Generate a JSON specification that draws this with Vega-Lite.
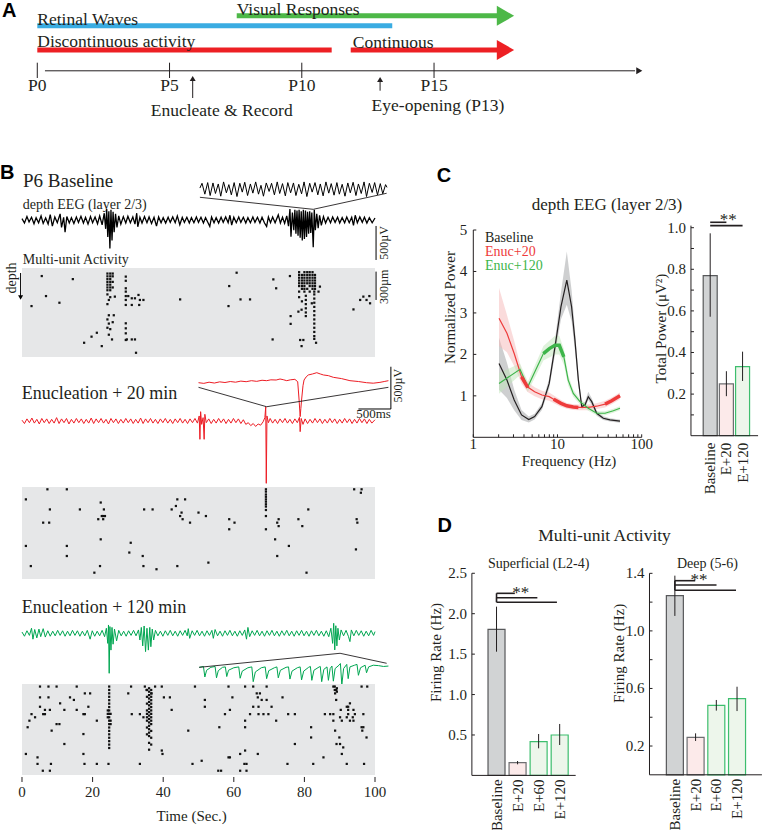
{
"$schema": "https://vega.github.io/schema/vega-lite/v6.json",
"width": 768, "height": 830,
"padding": 0,
"autosize": "none",
"background": "white",
"config": {
 "view": {"stroke": null},
 "text": {"font": "Liberation Serif", "color": "#231F20"}
},
"resolve": {"scale": {"x": "independent", "y": "independent", "color": "independent", "fill": "independent", "stroke": "independent"}},
"datasets": {
 "one": [{}],
 "aBars": [{"phase":"Retinal Waves","s":0,"e":13.42,"r":2.57},{"phase":"Visual Responses","s":7.54,"e":17.45,"r":1.58},{"phase":"Discontinuous activity","s":0,"e":11.13,"r":5.0},{"phase":"Continuous","s":11.85,"e":17.45,"r":5.0}],
 "aHeads": [{"phase":"Visual Responses","d":17.7,"r":1.58},{"phase":"Continuous","d":17.7,"r":5.0}],
 "aTicks": [{"d":0,"lab":"P0"},{"d":5,"lab":"P5"},{"d":10,"lab":"P10"},{"d":15,"lab":"P15"}],
 "aArrows": [{"d":5.875,"tip":7.85,"a":7.95,"b":9.8},{"d":12.96,"tip":7.95,"a":8.05,"b":9.07}],
 "aText": [{"d":0,"r":1.97,"lab":"Retinal Waves"},{"d":7.54,"r":1.0,"lab":"Visual Responses"},{"d":0,"r":4.2,"lab":"Discontinuous activity"},{"d":11.93,"r":4.25,"lab":"Continuous"},{"d":4.29,"r":11.07,"lab":"Enucleate & Record"},{"d":12.64,"r":10.6,"lab":"Eye-opening (P13)"}],
 "tx": [{"t":0},{"t":20},{"t":40},{"t":60},{"t":80},{"t":100}],
 "cyt": [{"v":1},{"v":2},{"v":3},{"v":4},{"v":5}],
 "cxt": [{"f":1},{"f":2},{"f":3},{"f":4},{"f":5},{"f":6},{"f":7},{"f":8},{"f":9},{"f":10},{"f":20},{"f":30},{"f":40},{"f":50},{"f":60},{"f":70},{"f":80},{"f":90},{"f":100}],
 "cxl": [{"f":1,"lab":"1"},{"f":10,"lab":"10"},{"f":100,"lab":"100"}],
 "cbt": [{"v":0.1},{"v":0.2},{"v":0.3},{"v":0.4},{"v":0.5},{"v":0.6},{"v":0.7},{"v":0.8},{"v":0.9},{"v":1.0}],
 "cbl": [{"v":0.2},{"v":0.4},{"v":0.6},{"v":0.8},{"v":1.0}],
 "dly": [{"v":0.5},{"v":1.0},{"v":1.5},{"v":2.0},{"v":2.5}],
 "dry": [{"v":0.2},{"v":0.4},{"v":0.6},{"v":0.8},{"v":1.0},{"v":1.2},{"v":1.4}],
 "dryl": [{"v":0.2},{"v":0.6},{"v":1.0},{"v":1.4}],
 "tr1": [{"t":0,"v":20},{"t":0.7,"v":-45},{"t":1.4,"v":50},{"t":2,"v":-30},{"t":2.7,"v":40},{"t":3.4,"v":-55},{"t":4,"v":35},{"t":4.7,"v":-40},{"t":5.4,"v":60},{"t":6,"v":-50},{"t":6.7,"v":30},{"t":7.4,"v":-60},{"t":8,"v":80},{"t":8.6,"v":-90},{"t":9.3,"v":45},{"t":10,"v":-40},{"t":10.8,"v":90},{"t":11.2,"v":-110},{"t":11.8,"v":40},{"t":12.2,"v":-180},{"t":12.7,"v":50},{"t":13.4,"v":-45},{"t":14,"v":35},{"t":14.7,"v":-50},{"t":15.4,"v":45},{"t":16,"v":-35},{"t":16.7,"v":55},{"t":17.4,"v":-45},{"t":18,"v":40},{"t":18.7,"v":-60},{"t":19.4,"v":50},{"t":20,"v":-40},{"t":20.7,"v":45},{"t":21.4,"v":-55},{"t":22,"v":60},{"t":22.7,"v":-70},{"t":23.3,"v":100},{"t":23.7,"v":-130},{"t":24,"v":160},{"t":24.3,"v":-250},{"t":24.6,"v":130},{"t":24.9,"v":-420},{"t":25.2,"v":150},{"t":25.5,"v":-300},{"t":25.8,"v":120},{"t":26.1,"v":-180},{"t":26.5,"v":90},{"t":26.9,"v":-110},{"t":27.4,"v":60},{"t":28,"v":-60},{"t":28.7,"v":50},{"t":29.4,"v":-45},{"t":30,"v":55},{"t":30.7,"v":-40},{"t":31.4,"v":45},{"t":32,"v":-60},{"t":32.5,"v":100},{"t":32.8,"v":-100},{"t":33.4,"v":40},{"t":34,"v":-45},{"t":34.7,"v":50},{"t":35.4,"v":-40},{"t":36,"v":45},{"t":36.7,"v":-50},{"t":37.4,"v":40},{"t":38.1,"v":-90},{"t":38.7,"v":45},{"t":39.4,"v":-40},{"t":40,"v":35},{"t":40.7,"v":-45},{"t":41.4,"v":40},{"t":42,"v":-35},{"t":42.7,"v":45},{"t":43.4,"v":-40},{"t":44,"v":60},{"t":44.7,"v":-70},{"t":45.4,"v":40},{"t":46,"v":-35},{"t":46.7,"v":40},{"t":47.4,"v":-45},{"t":48,"v":35},{"t":48.7,"v":-40},{"t":49.4,"v":45},{"t":50,"v":-35},{"t":50.7,"v":40},{"t":51.4,"v":-45},{"t":52,"v":35},{"t":52.7,"v":-40},{"t":53.2,"v":-95},{"t":53.7,"v":45},{"t":54.4,"v":-40},{"t":55,"v":35},{"t":55.7,"v":-45},{"t":56.4,"v":40},{"t":57,"v":-35},{"t":57.7,"v":45},{"t":58.4,"v":-40},{"t":58.9,"v":70},{"t":59.4,"v":-75},{"t":60,"v":40},{"t":60.7,"v":-40},{"t":61.4,"v":45},{"t":62,"v":-35},{"t":62.7,"v":40},{"t":63.4,"v":-45},{"t":64,"v":35},{"t":64.7,"v":-40},{"t":65.4,"v":45},{"t":66,"v":-35},{"t":66.7,"v":40},{"t":67.4,"v":-45},{"t":68,"v":40},{"t":68.7,"v":-45},{"t":69.3,"v":-95},{"t":69.8,"v":45},{"t":70.4,"v":-40},{"t":71,"v":45},{"t":71.7,"v":-40},{"t":72.6,"v":75},{"t":73.2,"v":-45},{"t":73.8,"v":40},{"t":74.4,"v":-50},{"t":75,"v":60},{"t":75.5,"v":-90},{"t":75.9,"v":160},{"t":76.2,"v":-245},{"t":76.6,"v":110},{"t":77,"v":-150},{"t":77.3,"v":150},{"t":77.6,"v":-200},{"t":77.9,"v":140},{"t":78.2,"v":-230},{"t":78.5,"v":150},{"t":78.8,"v":-260},{"t":79.1,"v":130},{"t":79.4,"v":-300},{"t":79.7,"v":150},{"t":80,"v":-280},{"t":80.3,"v":140},{"t":80.6,"v":-250},{"t":80.9,"v":120},{"t":81.2,"v":-200},{"t":81.5,"v":130},{"t":81.8,"v":-190},{"t":82.1,"v":110},{"t":82.5,"v":-400},{"t":82.8,"v":150},{"t":83.1,"v":-150},{"t":83.5,"v":90},{"t":83.9,"v":-120},{"t":84.3,"v":70},{"t":84.8,"v":-80},{"t":85.4,"v":50},{"t":86,"v":-45},{"t":86.7,"v":40},{"t":87.4,"v":-40},{"t":88,"v":45},{"t":88.7,"v":-35},{"t":89.4,"v":40},{"t":90,"v":-45},{"t":90.7,"v":35},{"t":91.4,"v":-40},{"t":92,"v":45},{"t":92.7,"v":-40},{"t":93.4,"v":40},{"t":93.9,"v":-80},{"t":94.4,"v":70},{"t":95,"v":-40},{"t":95.7,"v":45},{"t":96.4,"v":-35},{"t":97,"v":40},{"t":97.7,"v":-45},{"t":98.4,"v":35},{"t":99.2,"v":-40},{"t":100,"v":30}],
 "in1": [{"t":50.4,"v":470},{"t":51,"v":540},{"t":51.8,"v":380},{"t":52.6,"v":550},{"t":53.3,"v":360},{"t":54.1,"v":545},{"t":54.8,"v":390},{"t":55.6,"v":530},{"t":56.3,"v":350},{"t":57.1,"v":560},{"t":57.9,"v":400},{"t":58.6,"v":520},{"t":59.3,"v":370},{"t":60.1,"v":550},{"t":60.9,"v":345},{"t":61.7,"v":540},{"t":62.4,"v":410},{"t":63.1,"v":555},{"t":63.9,"v":360},{"t":64.7,"v":530},{"t":65.4,"v":395},{"t":66.2,"v":560},{"t":67,"v":380},{"t":67.7,"v":510},{"t":68.4,"v":350},{"t":69.2,"v":545},{"t":70,"v":420},{"t":70.7,"v":540},{"t":71.5,"v":370},{"t":72.3,"v":560},{"t":73,"v":390},{"t":73.8,"v":535},{"t":74.6,"v":355},{"t":75.3,"v":550},{"t":76.1,"v":400},{"t":76.9,"v":545},{"t":77.6,"v":360},{"t":78.4,"v":525},{"t":79.2,"v":385},{"t":79.9,"v":560},{"t":80.7,"v":345},{"t":81.5,"v":540},{"t":82.2,"v":410},{"t":83,"v":550},{"t":83.8,"v":370},{"t":84.5,"v":530},{"t":85.3,"v":355},{"t":86.1,"v":560},{"t":86.9,"v":395},{"t":87.6,"v":535},{"t":88.4,"v":365},{"t":89.2,"v":550},{"t":89.9,"v":380},{"t":90.7,"v":525},{"t":91.5,"v":350},{"t":92.3,"v":545},{"t":93,"v":400},{"t":93.8,"v":555},{"t":94.6,"v":360},{"t":95.3,"v":530},{"t":96.1,"v":390},{"t":96.9,"v":560},{"t":97.6,"v":345},{"t":98.4,"v":540},{"t":99.2,"v":405},{"t":99.9,"v":550},{"t":100.7,"v":370},{"t":101.5,"v":535},{"t":102.2,"v":385},{"t":103,"v":520},{"t":103.4,"v":480}],
 "cn1": [{"t":50.4,"v":334},{"t":82.5,"v":157},{"t":103.3,"v":393}],
 "tr2": [{"t":0,"v":10},{"t":0.7,"v":-30},{"t":1.4,"v":25},{"t":2.1,"v":-20},{"t":2.8,"v":35},{"t":3.5,"v":-25},{"t":4.2,"v":20},{"t":4.9,"v":-35},{"t":5.6,"v":30},{"t":6.3,"v":-20},{"t":7,"v":25},{"t":7.7,"v":-30},{"t":8.4,"v":20},{"t":9.1,"v":-25},{"t":9.8,"v":40},{"t":10.5,"v":-30},{"t":11.2,"v":25},{"t":11.9,"v":-20},{"t":12.6,"v":30},{"t":13.3,"v":-35},{"t":14,"v":20},{"t":14.7,"v":-25},{"t":15.4,"v":30},{"t":16.1,"v":-20},{"t":16.8,"v":25},{"t":17.5,"v":-30},{"t":18.2,"v":20},{"t":18.9,"v":-25},{"t":19.6,"v":35},{"t":20.3,"v":-30},{"t":21,"v":25},{"t":21.7,"v":-20},{"t":22.4,"v":30},{"t":23.1,"v":-25},{"t":23.8,"v":20},{"t":24.5,"v":-35},{"t":25.2,"v":30},{"t":25.9,"v":-20},{"t":26.6,"v":25},{"t":27.3,"v":-30},{"t":28,"v":20},{"t":28.7,"v":-25},{"t":29.4,"v":30},{"t":30.1,"v":-20},{"t":30.8,"v":25},{"t":31.5,"v":-30},{"t":32.2,"v":20},{"t":32.9,"v":-25},{"t":33.6,"v":35},{"t":34.3,"v":-30},{"t":35,"v":25},{"t":35.7,"v":-20},{"t":36.4,"v":30},{"t":37.1,"v":-25},{"t":37.8,"v":20},{"t":38.5,"v":-30},{"t":39.2,"v":25},{"t":39.9,"v":-20},{"t":40.6,"v":30},{"t":41.3,"v":-25},{"t":42,"v":20},{"t":42.7,"v":-30},{"t":43.4,"v":25},{"t":44.1,"v":-20},{"t":44.8,"v":30},{"t":45.5,"v":-25},{"t":46.2,"v":20},{"t":46.9,"v":-30},{"t":47.6,"v":25},{"t":48.3,"v":-20},{"t":49,"v":30},{"t":49.7,"v":-25},{"t":50.2,"v":60},{"t":50.4,"v":-218},{"t":50.6,"v":111},{"t":50.9,"v":-40},{"t":51.3,"v":40},{"t":51.6,"v":-218},{"t":51.8,"v":80},{"t":52.2,"v":-20},{"t":52.9,"v":25},{"t":53.6,"v":-30},{"t":54.3,"v":20},{"t":55,"v":-25},{"t":55.7,"v":30},{"t":56.4,"v":-20},{"t":57.1,"v":25},{"t":57.8,"v":-30},{"t":58.5,"v":20},{"t":59.2,"v":-25},{"t":59.9,"v":30},{"t":60.6,"v":-20},{"t":61.3,"v":25},{"t":62,"v":-30},{"t":62.7,"v":15},{"t":63.4,"v":-40},{"t":64.1,"v":-20},{"t":64.8,"v":-55},{"t":65.5,"v":-30},{"t":66.2,"v":-65},{"t":66.9,"v":-35},{"t":67.6,"v":-50},{"t":68.3,"v":-10},{"t":68.8,"v":40},{"t":69.05,"v":171},{"t":69.2,"v":-742},{"t":69.4,"v":60},{"t":69.8,"v":-20},{"t":70.3,"v":30},{"t":71,"v":-25},{"t":71.7,"v":20},{"t":72.4,"v":-30},{"t":73.1,"v":25},{"t":73.8,"v":-20},{"t":74.5,"v":30},{"t":75.2,"v":-25},{"t":75.9,"v":20},{"t":76.6,"v":-30},{"t":77.3,"v":25},{"t":78,"v":-20},{"t":78.6,"v":44},{"t":78.8,"v":-127},{"t":79.1,"v":30},{"t":79.6,"v":-40},{"t":80.2,"v":25},{"t":80.9,"v":-30},{"t":81.6,"v":20},{"t":82.3,"v":-25},{"t":83,"v":30},{"t":83.7,"v":-20},{"t":84.4,"v":25},{"t":85.1,"v":-30},{"t":85.8,"v":20},{"t":86.5,"v":-25},{"t":87.2,"v":30},{"t":87.9,"v":-20},{"t":88.6,"v":25},{"t":89.3,"v":-30},{"t":90,"v":20},{"t":90.7,"v":-25},{"t":91.4,"v":30},{"t":92.1,"v":-20},{"t":92.8,"v":25},{"t":93.5,"v":-30},{"t":94.2,"v":20},{"t":94.9,"v":-25},{"t":95.6,"v":30},{"t":96.3,"v":-20},{"t":97,"v":25},{"t":97.7,"v":-30},{"t":98.4,"v":20},{"t":99.1,"v":-25},{"t":100,"v":15}],
 "in2": [{"t":50,"v":456},{"t":51.5,"v":448},{"t":53,"v":462},{"t":54.5,"v":452},{"t":56,"v":466},{"t":57.5,"v":458},{"t":59,"v":470},{"t":60.5,"v":462},{"t":62,"v":475},{"t":63.5,"v":468},{"t":65,"v":480},{"t":66.5,"v":472},{"t":68,"v":485},{"t":69.3,"v":480},{"t":70.5,"v":490},{"t":72,"v":488},{"t":73.1,"v":500},{"t":74,"v":492},{"t":75,"v":480},{"t":76,"v":490},{"t":77.3,"v":496},{"t":78.1,"v":468},{"t":78.5,"v":250},{"t":78.8,"v":52},{"t":79,"v":150},{"t":79.2,"v":250},{"t":79.6,"v":420},{"t":79.9,"v":488},{"t":80.5,"v":525},{"t":81.1,"v":548},{"t":82.3,"v":560},{"t":83.5,"v":575},{"t":84.5,"v":560},{"t":85.4,"v":548},{"t":86.8,"v":540},{"t":88.2,"v":520},{"t":90.5,"v":505},{"t":92.9,"v":480},{"t":95.3,"v":470},{"t":97.6,"v":456},{"t":99.5,"v":450},{"t":101.4,"v":460},{"t":102.6,"v":470},{"t":103.8,"v":480}],
 "cn2": [{"t":50,"v":401},{"t":69.3,"v":170},{"t":103.8,"v":401}],
 "tr3": [{"t":0,"v":15},{"t":0.7,"v":-35},{"t":1.4,"v":30},{"t":2.1,"v":-25},{"t":2.7,"v":60},{"t":3.1,"v":-70},{"t":3.6,"v":45},{"t":4.2,"v":-55},{"t":4.8,"v":50},{"t":5.3,"v":-40},{"t":6,"v":55},{"t":6.6,"v":-45},{"t":7.3,"v":30},{"t":8,"v":-35},{"t":8.7,"v":25},{"t":9.4,"v":-30},{"t":10.1,"v":35},{"t":10.8,"v":-25},{"t":11.5,"v":30},{"t":12.2,"v":-35},{"t":12.9,"v":25},{"t":13.6,"v":-30},{"t":14.3,"v":35},{"t":15,"v":-25},{"t":15.7,"v":30},{"t":16.4,"v":-35},{"t":17.1,"v":25},{"t":17.8,"v":-30},{"t":18.5,"v":35},{"t":19.3,"v":-70},{"t":19.9,"v":30},{"t":20.6,"v":-35},{"t":21.3,"v":25},{"t":22,"v":-30},{"t":22.7,"v":35},{"t":23.4,"v":-40},{"t":23.9,"v":60},{"t":24.3,"v":-120},{"t":24.5,"v":99},{"t":24.7,"v":-476},{"t":24.9,"v":80},{"t":25.2,"v":-200},{"t":25.5,"v":70},{"t":25.8,"v":-130},{"t":26.2,"v":50},{"t":26.8,"v":-90},{"t":27.4,"v":35},{"t":28.1,"v":-30},{"t":28.8,"v":25},{"t":29.5,"v":-35},{"t":30.2,"v":30},{"t":30.9,"v":-25},{"t":31.6,"v":35},{"t":32.3,"v":-30},{"t":33,"v":40},{"t":33.4,"v":-80},{"t":33.8,"v":70},{"t":34.2,"v":-150},{"t":34.6,"v":87},{"t":35,"v":-218},{"t":35.4,"v":60},{"t":35.8,"v":-200},{"t":36.2,"v":70},{"t":36.5,"v":-160},{"t":36.9,"v":50},{"t":37.3,"v":-80},{"t":37.8,"v":35},{"t":38.5,"v":-30},{"t":39.2,"v":25},{"t":39.9,"v":-35},{"t":40.6,"v":30},{"t":41.3,"v":-25},{"t":42,"v":35},{"t":42.7,"v":-30},{"t":43.4,"v":25},{"t":44.1,"v":-35},{"t":44.8,"v":30},{"t":45.5,"v":-25},{"t":46.2,"v":35},{"t":46.8,"v":-30},{"t":47.1,"v":55},{"t":47.5,"v":-60},{"t":48.2,"v":30},{"t":48.9,"v":-25},{"t":49.6,"v":35},{"t":50.3,"v":-30},{"t":51,"v":25},{"t":51.7,"v":-35},{"t":52.4,"v":30},{"t":53.1,"v":-25},{"t":53.8,"v":35},{"t":54.2,"v":-60},{"t":54.7,"v":45},{"t":55.4,"v":-30},{"t":56.1,"v":25},{"t":56.8,"v":-35},{"t":57.5,"v":30},{"t":58.2,"v":-25},{"t":58.9,"v":35},{"t":59.6,"v":-30},{"t":60.3,"v":25},{"t":61,"v":-35},{"t":61.7,"v":30},{"t":62.4,"v":-25},{"t":63.1,"v":40},{"t":63.6,"v":-70},{"t":64,"v":70},{"t":64.5,"v":-40},{"t":65.2,"v":30},{"t":65.9,"v":-25},{"t":66.6,"v":35},{"t":67.3,"v":-30},{"t":68,"v":25},{"t":68.7,"v":-35},{"t":69.4,"v":30},{"t":70.1,"v":-25},{"t":70.8,"v":35},{"t":71.5,"v":-30},{"t":72.2,"v":25},{"t":72.9,"v":-35},{"t":73.6,"v":30},{"t":74.3,"v":-25},{"t":75,"v":35},{"t":75.7,"v":-30},{"t":76.4,"v":25},{"t":77.1,"v":-35},{"t":77.8,"v":30},{"t":78.5,"v":-25},{"t":79.2,"v":35},{"t":79.9,"v":-30},{"t":80.6,"v":25},{"t":81.3,"v":-35},{"t":82,"v":30},{"t":82.7,"v":-25},{"t":83.4,"v":35},{"t":84.1,"v":-30},{"t":84.8,"v":25},{"t":85.5,"v":-35},{"t":86.2,"v":30},{"t":86.9,"v":-40},{"t":87.5,"v":60},{"t":88,"v":-120},{"t":88.3,"v":119},{"t":88.6,"v":-198},{"t":88.9,"v":90},{"t":89.2,"v":-150},{"t":89.5,"v":60},{"t":89.9,"v":-80},{"t":90.4,"v":40},{"t":91.1,"v":-30},{"t":91.8,"v":35},{"t":92.5,"v":-40},{"t":92.9,"v":-99},{"t":93.3,"v":40},{"t":94,"v":-30},{"t":94.7,"v":35},{"t":95.4,"v":-25},{"t":96.1,"v":30},{"t":96.8,"v":-35},{"t":97.5,"v":25},{"t":98.2,"v":-30},{"t":98.9,"v":35},{"t":99.6,"v":-25},{"t":100,"v":20}],
 "in3": [{"t":50.2,"v":-405},{"t":51.4,"v":-395},{"t":51.8,"v":-520},{"t":52.3,"v":-440},{"t":53.5,"v":-405},{"t":54.7,"v":-395},{"t":55.1,"v":-530},{"t":55.6,"v":-445},{"t":56.8,"v":-405},{"t":57.6,"v":-400},{"t":58,"v":-515},{"t":58.5,"v":-440},{"t":60,"v":-410},{"t":61.4,"v":-400},{"t":61.8,"v":-535},{"t":62.4,"v":-450},{"t":64,"v":-410},{"t":65.1,"v":-400},{"t":65.5,"v":-576},{"t":66.1,"v":-460},{"t":67.8,"v":-410},{"t":68.9,"v":-400},{"t":69.3,"v":-540},{"t":69.9,"v":-445},{"t":71.5,"v":-410},{"t":72.2,"v":-400},{"t":72.6,"v":-530},{"t":73.2,"v":-440},{"t":74.8,"v":-405},{"t":75.5,"v":-400},{"t":75.9,"v":-545},{"t":76.5,"v":-450},{"t":78,"v":-410},{"t":78.8,"v":-400},{"t":79.2,"v":-555},{"t":79.8,"v":-450},{"t":81.2,"v":-405},{"t":81.7,"v":-395},{"t":82.1,"v":-560},{"t":82.7,"v":-440},{"t":84.2,"v":-400},{"t":84.5,"v":-395},{"t":84.9,"v":-576},{"t":85.5,"v":-430},{"t":86.4,"v":-400},{"t":86.8,"v":-560},{"t":87.3,"v":-420},{"t":87.8,"v":-390},{"t":88.2,"v":-570},{"t":88.7,"v":-420},{"t":89.8,"v":-380},{"t":90.2,"v":-360},{"t":90.6,"v":-615},{"t":91.1,"v":-420},{"t":92,"v":-370},{"t":92.4,"v":-540},{"t":92.9,"v":-400},{"t":94.2,"v":-380},{"t":94.9,"v":-370},{"t":95.3,"v":-500},{"t":95.9,"v":-410},{"t":97.2,"v":-380},{"t":97.6,"v":-470},{"t":98.2,"v":-400},{"t":99.5,"v":-380},{"t":101,"v":-385},{"t":102.4,"v":-395},{"t":103.8,"v":-390}],
 "cn3": [{"t":50.2,"v":-405},{"t":90.1,"v":-238},{"t":103.3,"v":-357}],
 "r1": [{"t":5.6,"c":2.9},{"t":14.4,"c":4.0},{"t":6.8,"c":10.1},{"t":2.7,"c":13.7},{"t":10.6,"c":12.5},{"t":19.7,"c":24.7},{"t":21.2,"c":23.3},{"t":17.6,"c":26.9},{"t":22.6,"c":28.1},{"t":32.3,"c":30.5},{"t":24.2,"c":2},{"t":25.0,"c":2},{"t":25.7,"c":2},{"t":24.2,"c":3},{"t":25.0,"c":3},{"t":25.7,"c":3},{"t":24.2,"c":4},{"t":25.0,"c":4},{"t":24.2,"c":5},{"t":25.0,"c":5},{"t":25.7,"c":5},{"t":24.2,"c":6},{"t":25.0,"c":6},{"t":24.2,"c":7},{"t":25.0,"c":7},{"t":25.7,"c":7},{"t":24.2,"c":8},{"t":25.0,"c":8},{"t":24.2,"c":9.5},{"t":25.0,"c":10.5},{"t":24.6,"c":11.5},{"t":24.2,"c":13},{"t":24.6,"c":17},{"t":24.2,"c":18.5},{"t":24.6,"c":20},{"t":24.2,"c":21.5},{"t":25.0,"c":22},{"t":24.6,"c":24},{"t":25.5,"c":25.7},{"t":26.3,"c":10.3},{"t":26.0,"c":17},{"t":25.7,"c":19.5},{"t":29.4,"c":3.1},{"t":29.4,"c":4.6},{"t":29.4,"c":7.3},{"t":29.4,"c":8.5},{"t":29.4,"c":10.1},{"t":29.4,"c":11.5},{"t":29.4,"c":13.3},{"t":29.4,"c":19.9},{"t":29.4,"c":21.7},{"t":29.4,"c":23.5},{"t":29.4,"c":25.9},{"t":30.1,"c":10.1},{"t":31.1,"c":10.9},{"t":32.0,"c":10.9},{"t":33.0,"c":9.7},{"t":33.4,"c":11.5},{"t":34.4,"c":11.5},{"t":31.1,"c":13.3},{"t":33.2,"c":13.3},{"t":29.7,"c":25.7},{"t":31.1,"c":25.7},{"t":32.0,"c":25.7},{"t":44.8,"c":11.3},{"t":60.8,"c":1.7},{"t":58.7,"c":6.5},{"t":58.5,"c":13.7},{"t":61.9,"c":11.3},{"t":64.6,"c":11.3},{"t":71.2,"c":4.1},{"t":72.0,"c":7.3},{"t":71.0,"c":25.7},{"t":75.9,"c":2.9},{"t":76.1,"c":17.3},{"t":76.1,"c":20.1},{"t":78.5,"c":1.5},{"t":80.0,"c":1.5},{"t":80.8,"c":1.5},{"t":81.5,"c":1.5},{"t":82.3,"c":1.5},{"t":78.5,"c":2.5},{"t":79.3,"c":2.5},{"t":80.0,"c":2.5},{"t":80.8,"c":2.5},{"t":81.5,"c":2.5},{"t":82.3,"c":2.5},{"t":83.0,"c":2.5},{"t":78.5,"c":3.5},{"t":79.3,"c":3.5},{"t":80.0,"c":3.5},{"t":80.8,"c":3.5},{"t":81.5,"c":3.5},{"t":82.3,"c":3.5},{"t":83.0,"c":3.5},{"t":78.5,"c":4.5},{"t":79.3,"c":4.5},{"t":80.0,"c":4.5},{"t":80.8,"c":4.5},{"t":81.5,"c":4.5},{"t":82.3,"c":4.5},{"t":83.0,"c":4.5},{"t":78.5,"c":5.5},{"t":79.3,"c":5.5},{"t":80.0,"c":5.5},{"t":80.8,"c":5.5},{"t":81.5,"c":5.5},{"t":82.3,"c":5.5},{"t":83.0,"c":5.5},{"t":78.5,"c":6.5},{"t":79.3,"c":6.5},{"t":80.0,"c":6.5},{"t":81.5,"c":6.5},{"t":82.3,"c":6.5},{"t":83.0,"c":6.5},{"t":79.3,"c":7.5},{"t":80.0,"c":7.5},{"t":80.8,"c":7.5},{"t":82.3,"c":7.5},{"t":83.0,"c":7.5},{"t":78.5,"c":8.5},{"t":80.0,"c":8.5},{"t":81.5,"c":8.5},{"t":82.8,"c":8.5},{"t":80.4,"c":10},{"t":80.4,"c":11.5},{"t":80.4,"c":13},{"t":80.4,"c":14.5},{"t":80.4,"c":16},{"t":80.4,"c":17.3},{"t":82.8,"c":9.5},{"t":82.8,"c":11},{"t":82.8,"c":12.5},{"t":82.8,"c":14},{"t":82.8,"c":15.5},{"t":82.8,"c":17},{"t":82.8,"c":18.5},{"t":82.8,"c":20},{"t":82.8,"c":21.5},{"t":82.8,"c":23},{"t":82.8,"c":24.5},{"t":82.8,"c":25.5},{"t":84.4,"c":6.7},{"t":84.0,"c":8.5},{"t":82.1,"c":12.7},{"t":79.2,"c":15},{"t":78.3,"c":15.7},{"t":78.8,"c":25.9},{"t":79.7,"c":25.9},{"t":79.2,"c":28.1},{"t":83.3,"c":26.9},{"t":78.5,"c":10.5},{"t":79.3,"c":12},{"t":93.9,"c":14.9},{"t":95.8,"c":11.5},{"t":96.7,"c":10.3},{"t":97.6,"c":11.5},{"t":98.4,"c":10.1},{"t":98.6,"c":12.7}],
 "r2": [{"t":7.2,"c":0.8},{"t":12.7,"c":0.8},{"t":1.1,"c":4.3},{"t":7.9,"c":7.8},{"t":16.4,"c":7.8},{"t":22.3,"c":5.4},{"t":23.2,"c":7.8},{"t":22.6,"c":10.1},{"t":23.0,"c":10.1},{"t":23.5,"c":10.1},{"t":21.6,"c":11.2},{"t":23.0,"c":11.2},{"t":6.0,"c":12.4},{"t":7.7,"c":12.4},{"t":22.3,"c":18.2},{"t":1.1,"c":20.5},{"t":12.7,"c":20.5},{"t":12.7,"c":24.0},{"t":2.5,"c":27.5},{"t":22.1,"c":27.5},{"t":20.5,"c":29.8},{"t":30.8,"c":19.4},{"t":30.4,"c":22.8},{"t":34.2,"c":24.0},{"t":34.4,"c":27.5},{"t":38.1,"c":28.6},{"t":44.0,"c":4.3},{"t":46.2,"c":4.3},{"t":43.6,"c":6.6},{"t":42.4,"c":7.8},{"t":34.6,"c":7.8},{"t":37.0,"c":7.8},{"t":45.2,"c":8.9},{"t":44.8,"c":10.1},{"t":45.5,"c":11.2},{"t":50.0,"c":8.9},{"t":52.1,"c":10.1},{"t":47.6,"c":12.4},{"t":52.8,"c":26.3},{"t":44.0,"c":27.5},{"t":58.7,"c":11.2},{"t":60.2,"c":12.4},{"t":58.7,"c":14.7},{"t":69.1,"c":0.8},{"t":69.1,"c":1.6},{"t":69.1,"c":2.6},{"t":69.1,"c":3.4},{"t":69.1,"c":4.3},{"t":69.1,"c":5.1},{"t":69.1,"c":6.0},{"t":69.1,"c":6.8},{"t":69.1,"c":8.0},{"t":69.1,"c":10.1},{"t":69.1,"c":14.7},{"t":72.7,"c":11.2},{"t":72.3,"c":12.4},{"t":72.7,"c":13.6},{"t":71.7,"c":18.2},{"t":75.6,"c":20.5},{"t":72.3,"c":24.0},{"t":78.3,"c":11.2},{"t":79.4,"c":13.6},{"t":81.1,"c":7.8},{"t":80.6,"c":29.8},{"t":94.1,"c":0.8},{"t":96.2,"c":0.8},{"t":96.0,"c":2.0},{"t":94.8,"c":11.2},{"t":95.0,"c":12.4},{"t":94.6,"c":21.7}],
 "r3": [{"t":5.1,"c":0.9},{"t":7.5,"c":0.9},{"t":9.8,"c":0.9},{"t":15.5,"c":0.9},{"t":30.9,"c":0.9},{"t":34.8,"c":0.9},{"t":37.7,"c":0.9},{"t":39.6,"c":0.9},{"t":49.0,"c":0.9},{"t":58.5,"c":0.9},{"t":63.2,"c":0.9},{"t":65.5,"c":0.9},{"t":69.3,"c":0.9},{"t":88.2,"c":0.9},{"t":96.2,"c":0.9},{"t":97.8,"c":0.9},{"t":35.3,"c":2.1},{"t":89.0,"c":2.1},{"t":17.8,"c":3.3},{"t":19.3,"c":3.3},{"t":30.1,"c":3.3},{"t":36.7,"c":3.3},{"t":88.7,"c":3.3},{"t":66.5,"c":3.3},{"t":67.4,"c":3.3},{"t":5.1,"c":4.7},{"t":7.5,"c":4.7},{"t":13.6,"c":4.7},{"t":40.2,"c":4.7},{"t":41.9,"c":4.7},{"t":59.6,"c":4.7},{"t":73.8,"c":4.7},{"t":66.8,"c":4.7},{"t":14.7,"c":5.6},{"t":51.8,"c":5.6},{"t":89.0,"c":5.6},{"t":69.3,"c":5.6},{"t":67.9,"c":5.6},{"t":10.8,"c":6.8},{"t":92.9,"c":6.8},{"t":5.1,"c":8.0},{"t":18.8,"c":8.0},{"t":51.8,"c":8.0},{"t":65.5,"c":8.0},{"t":67.0,"c":8.0},{"t":70.7,"c":8.0},{"t":92.0,"c":8.0},{"t":92.4,"c":8.0},{"t":6.5,"c":9.1},{"t":7.9,"c":9.1},{"t":12.0,"c":9.1},{"t":15.5,"c":9.1},{"t":42.4,"c":9.1},{"t":58.9,"c":9.1},{"t":90.3,"c":9.1},{"t":92.4,"c":9.1},{"t":93.9,"c":9.1},{"t":2.7,"c":10.6},{"t":6.0,"c":10.6},{"t":6.5,"c":10.6},{"t":17.4,"c":10.6},{"t":17.8,"c":10.6},{"t":31.1,"c":10.6},{"t":33.4,"c":10.6},{"t":57.5,"c":10.6},{"t":64.6,"c":10.6},{"t":67.0,"c":10.6},{"t":68.4,"c":10.6},{"t":69.8,"c":10.6},{"t":75.4,"c":10.6},{"t":77.3,"c":10.6},{"t":85.8,"c":10.6},{"t":87.3,"c":10.6},{"t":88.2,"c":10.6},{"t":92.4,"c":10.6},{"t":94.3,"c":10.6},{"t":96.7,"c":10.6},{"t":3.7,"c":11.7},{"t":34.4,"c":11.7},{"t":90.1,"c":11.7},{"t":92.0,"c":11.7},{"t":93.7,"c":11.7},{"t":2.1,"c":12.9},{"t":21.2,"c":12.9},{"t":63.2,"c":12.9},{"t":72.0,"c":12.9},{"t":88.2,"c":12.9},{"t":90.6,"c":12.9},{"t":92.9,"c":12.9},{"t":93.9,"c":12.9},{"t":9.8,"c":14.1},{"t":10.6,"c":14.1},{"t":1.6,"c":15.2},{"t":55.9,"c":15.2},{"t":63.2,"c":15.2},{"t":81.9,"c":15.2},{"t":96.2,"c":15.2},{"t":96.7,"c":15.2},{"t":8.4,"c":16.4},{"t":47.1,"c":16.4},{"t":88.7,"c":16.4},{"t":96.4,"c":16.4},{"t":17.4,"c":17.6},{"t":81.9,"c":18.8},{"t":89.9,"c":18.8},{"t":97.6,"c":18.8},{"t":12.0,"c":21.1},{"t":77.3,"c":21.1},{"t":89.1,"c":21.1},{"t":90.1,"c":21.1},{"t":91.0,"c":22.3},{"t":39.6,"c":23.4},{"t":63.2,"c":23.4},{"t":1.1,"c":24.6},{"t":17.4,"c":24.6},{"t":39.8,"c":24.6},{"t":61.8,"c":24.6},{"t":66.8,"c":24.6},{"t":90.6,"c":24.6},{"t":4.4,"c":25.8},{"t":58.5,"c":25.8},{"t":58.9,"c":25.8},{"t":85.4,"c":25.8},{"t":50.9,"c":27.0},{"t":4.4,"c":28.1},{"t":8.2,"c":28.1},{"t":17.7,"c":28.1},{"t":21.2,"c":28.1},{"t":24.5,"c":28.1},{"t":33.4,"c":28.1},{"t":48.3,"c":28.1},{"t":63.0,"c":28.1},{"t":63.6,"c":28.1},{"t":75.2,"c":28.1},{"t":82.5,"c":28.1},{"t":92.0,"c":28.1},{"t":96.9,"c":28.1},{"t":5.9,"c":30.5},{"t":7.9,"c":30.5},{"t":55.6,"c":30.5},{"t":56.4,"c":30.5},{"t":61.8,"c":30.5},{"t":63.6,"c":30.5},{"t":24.7,"c":0.9},{"t":24.7,"c":2.1},{"t":24.7,"c":3.3},{"t":24.7,"c":4.5},{"t":24.7,"c":5.7},{"t":24.7,"c":6.9},{"t":24.7,"c":8.1},{"t":24.7,"c":9.3},{"t":24.7,"c":10.5},{"t":24.7,"c":11.7},{"t":24.7,"c":12.9},{"t":24.7,"c":14.1},{"t":24.7,"c":15.3},{"t":24.7,"c":16.5},{"t":24.7,"c":17.7},{"t":24.7,"c":18.9},{"t":24.7,"c":20.1},{"t":24.7,"c":21.3},{"t":24.7,"c":22.5},{"t":24.3,"c":9.3},{"t":24.3,"c":10.5},{"t":24.3,"c":11.7},{"t":25.1,"c":10.5},{"t":25.1,"c":12.9},{"t":25.1,"c":14.1},{"t":35.4,"c":2.1},{"t":35.4,"c":4.5},{"t":35.4,"c":6.9},{"t":35.4,"c":9.3},{"t":35.4,"c":10.5},{"t":35.4,"c":11.7},{"t":35.4,"c":12.9},{"t":35.4,"c":15.3},{"t":35.4,"c":17.7},{"t":36.0,"c":1.5},{"t":36.0,"c":2.7},{"t":36.0,"c":3.9},{"t":36.0,"c":5.1},{"t":36.0,"c":6.3},{"t":36.0,"c":7.5},{"t":36.0,"c":8.7},{"t":36.0,"c":9.9},{"t":36.0,"c":11.1},{"t":36.0,"c":12.3},{"t":36.0,"c":13.5},{"t":36.0,"c":14.7},{"t":36.0,"c":15.9},{"t":36.0,"c":17.1},{"t":36.0,"c":18.3},{"t":36.0,"c":20.7},{"t":36.0,"c":23.1},{"t":36.6,"c":2.1},{"t":36.6,"c":3.3},{"t":36.6,"c":4.5},{"t":36.6,"c":5.7},{"t":36.6,"c":6.9},{"t":36.6,"c":8.1},{"t":36.6,"c":9.3},{"t":36.6,"c":10.5},{"t":36.6,"c":11.7},{"t":36.6,"c":12.9},{"t":36.6,"c":14.1},{"t":36.6,"c":16.5},{"t":36.6,"c":18.9},{"t":36.6,"c":21.3},{"t":88.6,"c":0.9},{"t":89.2,"c":1.5},{"t":88.6,"c":2.1},{"t":89.2,"c":2.7}],
 "cspec": [
  {"series":"Baseline","f":2.02,"m":1.78,"lo":1.15,"hi":2.4},{"series":"Baseline","f":2.51,"m":1.38,"lo":0.95,"hi":1.8},{"series":"Baseline","f":3.06,"m":0.9,"lo":0.65,"hi":1.15},{"series":"Baseline","f":3.74,"m":0.54,"lo":0.42,"hi":0.66},{"series":"Baseline","f":4.56,"m":0.43,"lo":0.36,"hi":0.5},{"series":"Baseline","f":5.35,"m":0.5,"lo":0.43,"hi":0.57},{"series":"Baseline","f":6.53,"m":0.74,"lo":0.66,"hi":0.82},{"series":"Baseline","f":7.97,"m":1.3,"lo":1.18,"hi":1.42},{"series":"Baseline","f":9.34,"m":2.18,"lo":2.0,"hi":2.36},{"series":"Baseline","f":11.0,"m":3.15,"lo":2.85,"hi":3.5},{"series":"Baseline","f":12.9,"m":3.79,"lo":3.2,"hi":4.48},{"series":"Baseline","f":14.7,"m":3.15,"lo":2.8,"hi":3.55},{"series":"Baseline","f":16.1,"m":2.35,"lo":2.1,"hi":2.6},{"series":"Baseline","f":17.7,"m":1.38,"lo":1.25,"hi":1.5},{"series":"Baseline","f":19.4,"m":0.74,"lo":0.68,"hi":0.82},{"series":"Baseline","f":21.2,"m":0.78,"lo":0.72,"hi":0.86},{"series":"Baseline","f":23.2,"m":0.98,"lo":0.9,"hi":1.1},{"series":"Baseline","f":25.5,"m":0.86,"lo":0.78,"hi":0.94},{"series":"Baseline","f":29.2,"m":0.58,"lo":0.52,"hi":0.64},{"series":"Baseline","f":35.0,"m":0.46,"lo":0.42,"hi":0.51},{"series":"Baseline","f":42.0,"m":0.42,"lo":0.38,"hi":0.46},{"series":"Baseline","f":55.2,"m":0.39,"lo":0.35,"hi":0.43},
  {"series":"Enuc+20","f":2.02,"m":2.87,"lo":2.2,"hi":3.6},{"series":"Enuc+20","f":2.51,"m":2.51,"lo":2.05,"hi":2.95},{"series":"Enuc+20","f":3.06,"m":2.02,"lo":1.72,"hi":2.32},{"series":"Enuc+20","f":3.74,"m":1.46,"lo":1.3,"hi":1.62},{"series":"Enuc+20","f":4.38,"m":1.22,"lo":1.1,"hi":1.34},{"series":"Enuc+20","f":5.35,"m":1.1,"lo":0.99,"hi":1.21},{"series":"Enuc+20","f":6.53,"m":1.02,"lo":0.92,"hi":1.12},{"series":"Enuc+20","f":7.97,"m":0.98,"lo":0.88,"hi":1.08},{"series":"Enuc+20","f":9.34,"m":0.9,"lo":0.81,"hi":0.99},{"series":"Enuc+20","f":11.0,"m":0.82,"lo":0.74,"hi":0.9},{"series":"Enuc+20","f":12.9,"m":0.76,"lo":0.69,"hi":0.83},{"series":"Enuc+20","f":15.4,"m":0.73,"lo":0.66,"hi":0.8},{"series":"Enuc+20","f":18.5,"m":0.72,"lo":0.65,"hi":0.79},{"series":"Enuc+20","f":23.2,"m":0.72,"lo":0.65,"hi":0.79},{"series":"Enuc+20","f":29.2,"m":0.75,"lo":0.68,"hi":0.82},{"series":"Enuc+20","f":36.7,"m":0.8,"lo":0.72,"hi":0.88},{"series":"Enuc+20","f":44.0,"m":0.88,"lo":0.8,"hi":0.96},{"series":"Enuc+20","f":55.2,"m":1.0,"lo":0.92,"hi":1.08},
  {"series":"Enuc+120","f":2.02,"m":1.3,"lo":1.05,"hi":1.55},{"series":"Enuc+120","f":3.59,"m":1.64,"lo":1.5,"hi":1.78},{"series":"Enuc+120","f":4.44,"m":1.22,"lo":1.1,"hi":1.34},{"series":"Enuc+120","f":6.8,"m":2.02,"lo":1.85,"hi":2.2},{"series":"Enuc+120","f":9.34,"m":2.22,"lo":2.0,"hi":2.45},{"series":"Enuc+120","f":10.5,"m":2.22,"lo":2.0,"hi":2.45},{"series":"Enuc+120","f":11.9,"m":1.94,"lo":1.75,"hi":2.13},{"series":"Enuc+120","f":13.4,"m":1.38,"lo":1.25,"hi":1.5},{"series":"Enuc+120","f":15.4,"m":1.06,"lo":0.97,"hi":1.15},{"series":"Enuc+120","f":18.5,"m":0.86,"lo":0.79,"hi":0.93},{"series":"Enuc+120","f":23.2,"m":0.7,"lo":0.64,"hi":0.76},{"series":"Enuc+120","f":29.2,"m":0.58,"lo":0.53,"hi":0.63},{"series":"Enuc+120","f":36.7,"m":0.58,"lo":0.53,"hi":0.63},{"series":"Enuc+120","f":46.0,"m":0.64,"lo":0.59,"hi":0.69},{"series":"Enuc+120","f":55.2,"m":0.7,"lo":0.65,"hi":0.75}],
 "cthick": [{"series":"Enuc+20","seg":1,"f":3.74,"m":1.46},{"series":"Enuc+20","seg":1,"f":4.45,"m":1.2},{"series":"Enuc+20","seg":2,"f":9.0,"m":0.92},{"series":"Enuc+20","seg":2,"f":11.0,"m":0.82},{"series":"Enuc+20","seg":2,"f":12.9,"m":0.76},{"series":"Enuc+20","seg":2,"f":15.4,"m":0.73},{"series":"Enuc+20","seg":2,"f":17.7,"m":0.72},{"series":"Enuc+20","seg":3,"f":36.7,"m":0.8},{"series":"Enuc+20","seg":3,"f":44.0,"m":0.88},{"series":"Enuc+20","seg":3,"f":55.2,"m":1.0},{"series":"Enuc+120","seg":4,"f":6.8,"m":2.02},{"series":"Enuc+120","seg":4,"f":8.0,"m":2.14},{"series":"Enuc+120","seg":4,"f":9.34,"m":2.22},{"series":"Enuc+120","seg":4,"f":10.5,"m":2.22},{"series":"Enuc+120","seg":4,"f":11.9,"m":1.94}],
 "cbar": [{"pos":0,"cond":"Baseline","m":0.77,"lo":0.572,"hi":0.973},{"pos":1,"cond":"E+20","m":0.249,"lo":0.19,"hi":0.31},{"pos":2,"cond":"E+120","m":0.332,"lo":0.263,"hi":0.404}],
 "csig": [{"g":1,"pos":0,"y":1.026},{"g":1,"pos":1,"y":1.026},{"g":2,"pos":0,"y":1.01},{"g":2,"pos":2,"y":1.01}],
 "dl": [{"pos":0,"cond":"Baseline","m":1.807,"lo":1.53,"hi":2.087},{"pos":1,"cond":"E+20","m":0.157,"lo":0.137,"hi":0.178},{"pos":2,"cond":"E+60","m":0.417,"lo":0.335,"hi":0.512},{"pos":3,"cond":"E+120","m":0.5,"lo":0.376,"hi":0.636}],
 "dlsig": [{"g":1,"pos":0,"y":2.252},{"g":1,"pos":0.87,"y":2.252},{"g":2,"pos":0,"y":2.198},{"g":2,"pos":1.94,"y":2.198},{"g":3,"pos":0,"y":2.141},{"g":3,"pos":2.87,"y":2.141},{"g":4,"pos":0,"y":2.141},{"g":4,"pos":0.001,"y":2.252}],
 "dr": [{"pos":0,"cond":"Baseline","m":1.245,"lo":1.104,"hi":1.384},{"pos":1,"cond":"E+20","m":0.26,"lo":0.235,"hi":0.288},{"pos":2,"cond":"E+60","m":0.483,"lo":0.446,"hi":0.52},{"pos":3,"cond":"E+120","m":0.529,"lo":0.443,"hi":0.612}],
 "drsig": [{"g":1,"pos":0,"y":1.349},{"g":1,"pos":0.98,"y":1.349},{"g":2,"pos":0,"y":1.319},{"g":2,"pos":2.01,"y":1.319},{"g":3,"pos":0,"y":1.282},{"g":3,"pos":2.95,"y":1.282},{"g":4,"pos":0,"y":1.282},{"g":4,"pos":0.001,"y":1.349}]
},
"layer": [
 {"layer": [
   {"data": {"name": "aBars"}, "mark": {"type": "rule", "strokeWidth": 5}, "encoding": {
     "x": {"field": "s", "type": "quantitative", "scale": {"domain": [-1.41, 27.626], "nice": false, "zero": false}, "axis": null},
     "x2": {"field": "e"},
     "y": {"field": "r", "type": "quantitative", "scale": {"domain": [0, 83], "reverse": true, "nice": false, "zero": false}, "axis": null},
     "color": {"field": "phase", "type": "nominal", "scale": {"domain": ["Retinal Waves", "Visual Responses", "Discontinuous activity", "Continuous"], "range": ["#3AACE2", "#4DB848", "#ED2024", "#ED2024"]}, "legend": null}}},
   {"data": {"name": "aHeads"}, "mark": {"type": "point", "shape": "triangle-right", "size": 400, "filled": true, "opacity": 1}, "encoding": {
     "x": {"field": "d", "type": "quantitative", "axis": null},
     "y": {"field": "r", "type": "quantitative", "axis": null},
     "color": {"field": "phase", "type": "nominal", "legend": null}}},
   {"data": {"name": "one"}, "mark": {"type": "rule", "color": "#231F20", "strokeWidth": 1}, "encoding": {
     "x": {"datum": 0.29, "type": "quantitative", "axis": null}, "x2": {"datum": 22.6},
     "y": {"datum": 7.08, "type": "quantitative", "axis": null}}},
   {"data": {"name": "one"}, "mark": {"type": "point", "shape": "triangle-right", "size": 49, "filled": true, "color": "#231F20", "opacity": 1}, "encoding": {
     "x": {"datum": 22.76, "type": "quantitative", "axis": null},
     "y": {"datum": 7.08, "type": "quantitative", "axis": null}}},
   {"data": {"name": "aTicks"}, "mark": {"type": "rule", "color": "#231F20", "strokeWidth": 1}, "encoding": {
     "x": {"field": "d", "type": "quantitative", "axis": null},
     "y": {"datum": 6.27, "type": "quantitative", "axis": null}, "y2": {"datum": 7.8}}},
   {"data": {"name": "aTicks"}, "mark": {"type": "text", "fontSize": 17.5, "align": "center", "baseline": "middle"}, "encoding": {
     "x": {"field": "d", "type": "quantitative", "axis": null},
     "y": {"datum": 8.57, "type": "quantitative", "axis": null},
     "text": {"field": "lab"}}},
   {"data": {"name": "aArrows"}, "mark": {"type": "rule", "color": "#231F20", "strokeWidth": 1}, "encoding": {
     "x": {"field": "d", "type": "quantitative", "axis": null},
     "y": {"field": "a", "type": "quantitative", "axis": null}, "y2": {"field": "b"}}},
   {"data": {"name": "aArrows"}, "mark": {"type": "point", "shape": "triangle-up", "size": 36, "filled": true, "color": "#231F20", "opacity": 1}, "encoding": {
     "x": {"field": "d", "type": "quantitative", "axis": null},
     "y": {"field": "tip", "type": "quantitative", "axis": null}}},
   {"data": {"name": "aText"}, "mark": {"type": "text", "fontSize": 17.5, "align": "left", "baseline": "middle"}, "encoding": {
     "x": {"field": "d", "type": "quantitative", "axis": null},
     "y": {"field": "r", "type": "quantitative", "axis": null},
     "text": {"field": "lab"}}},
   {"data": {"name": "one"}, "mark": {"type": "text", "font": "Liberation Sans", "fontWeight": "bold", "fontSize": 20, "align": "left", "baseline": "middle", "color": "#000"}, "encoding": {
     "x": {"datum": -1.334, "type": "quantitative", "axis": null},
     "y": {"datum": 1.05, "type": "quantitative", "axis": null},
     "text": {"value": "A"}}}
 ]},
 {"layer": [
   {"data": {"name": "tr1"}, "mark": {"type": "line", "color": "#000000", "strokeWidth": 1.3}, "encoding": {
     "x": {"field": "t", "type": "quantitative", "scale": {"domain": [-6.232, 211.33], "nice": false, "zero": false}, "axis": null},
     "y": {"field": "v", "type": "quantitative", "scale": {"domain": [-8970.6, 3235.3], "nice": false, "zero": false}, "axis": null}}},
   {"data": {"name": "in1"}, "mark": {"type": "line", "color": "#000000", "strokeWidth": 1}, "encoding": {
     "x": {"field": "t", "type": "quantitative", "axis": null}, "y": {"field": "v", "type": "quantitative", "axis": null}}},
   {"data": {"name": "cn1"}, "mark": {"type": "line", "color": "#231F20", "strokeWidth": 0.9}, "encoding": {
     "x": {"field": "t", "type": "quantitative", "axis": null}, "y": {"field": "v", "type": "quantitative", "axis": null}}},
   {"data": {"name": "one"}, "mark": {"type": "rule", "color": "#000", "strokeWidth": 1}, "encoding": {
     "x": {"datum": 100.3, "type": "quantitative", "axis": null}, "y": {"datum": -88, "type": "quantitative", "axis": null}, "y2": {"datum": -588}}},
   {"data": {"name": "one"}, "mark": {"type": "text", "fontSize": 12, "angle": 270, "align": "center", "baseline": "middle"}, "encoding": {
     "x": {"datum": 102.5, "type": "quantitative", "axis": null}, "y": {"datum": -338, "type": "quantitative", "axis": null}, "text": {"value": "500µV"}}},
   {"data": {"name": "one"}, "mark": {"type": "text", "font": "Liberation Sans", "fontWeight": "bold", "fontSize": 20, "align": "left", "baseline": "middle", "color": "#000"}, "encoding": {
     "x": {"datum": -6.23, "type": "quantitative", "axis": null}, "y": {"datum": 690, "type": "quantitative", "axis": null}, "text": {"value": "B"}}},
   {"data": {"name": "one"}, "mark": {"type": "text", "fontSize": 19, "align": "left", "baseline": "middle"}, "encoding": {
     "x": {"datum": 0.28, "type": "quantitative", "axis": null}, "y": {"datum": 570, "type": "quantitative", "axis": null}, "text": {"value": "P6 Baseline"}}},
   {"data": {"name": "one"}, "mark": {"type": "text", "fontSize": 14, "align": "left", "baseline": "middle"}, "encoding": {
     "x": {"datum": 0.2, "type": "quantitative", "axis": null}, "y": {"datum": 215, "type": "quantitative", "axis": null}, "text": {"value": "depth EEG (layer 2/3)"}}},
   {"data": {"name": "one"}, "mark": {"type": "text", "fontSize": 14, "align": "left", "baseline": "middle"}, "encoding": {
     "x": {"datum": 0.2, "type": "quantitative", "axis": null}, "y": {"datum": -588, "type": "quantitative", "axis": null}, "text": {"value": "Multi-unit Activity"}}}
 ]},
 {"layer": [
   {"data": {"name": "one"}, "mark": {"type": "rect", "color": "#E6E7E8"}, "encoding": {
     "x": {"datum": 0, "type": "quantitative", "scale": {"domain": [-6.232, 211.33], "nice": false, "zero": false}, "axis": null}, "x2": {"datum": 100},
     "y": {"datum": 0, "type": "quantitative", "scale": {"domain": [-96.40, 202.16], "reverse": true, "nice": false, "zero": false}, "axis": null}, "y2": {"datum": 32}}},
   {"data": {"name": "r1"}, "mark": {"type": "square", "size": 5, "color": "#111", "opacity": 1}, "encoding": {
     "x": {"field": "t", "type": "quantitative", "axis": null}, "y": {"field": "c", "type": "quantitative", "axis": null}}},
   {"data": {"name": "one"}, "mark": {"type": "text", "fontSize": 14, "angle": 270, "align": "center", "baseline": "middle"}, "encoding": {
     "x": {"datum": -2.85, "type": "quantitative", "axis": null}, "y": {"datum": 3.6, "type": "quantitative", "axis": null}, "text": {"value": "depth"}}},
   {"data": {"name": "one"}, "mark": {"type": "rule", "color": "#000", "strokeWidth": 1}, "encoding": {
     "x": {"datum": -0.4, "type": "quantitative", "axis": null}, "y": {"datum": 1.8, "type": "quantitative", "axis": null}, "y2": {"datum": 10.5}}},
   {"data": {"name": "one"}, "mark": {"type": "point", "shape": "triangle-down", "size": 25, "filled": true, "color": "#000", "opacity": 1}, "encoding": {
     "x": {"datum": -0.4, "type": "quantitative", "axis": null}, "y": {"datum": 10.6, "type": "quantitative", "axis": null}}},
   {"data": {"name": "one"}, "mark": {"type": "rule", "color": "#000", "strokeWidth": 1}, "encoding": {
     "x": {"datum": 100.3, "type": "quantitative", "axis": null}, "y": {"datum": 1.3, "type": "quantitative", "axis": null}, "y2": {"datum": 11.5}}},
   {"data": {"name": "one"}, "mark": {"type": "text", "fontSize": 12, "angle": 270, "align": "center", "baseline": "middle"}, "encoding": {
     "x": {"datum": 102.5, "type": "quantitative", "axis": null}, "y": {"datum": 6.8, "type": "quantitative", "axis": null}, "text": {"value": "300µm"}}}
 ]},
 {"layer": [
   {"data": {"name": "tr2"}, "mark": {"type": "line", "color": "#ED1C24", "strokeWidth": 1}, "encoding": {
     "x": {"field": "t", "type": "quantitative", "scale": {"domain": [-6.232, 211.33], "nice": false, "zero": false}, "axis": null},
     "y": {"field": "v", "type": "quantitative", "scale": {"domain": [-4869, 5011.9], "nice": false, "zero": false}, "axis": null}}},
   {"data": {"name": "in2"}, "mark": {"type": "line", "color": "#ED1C24", "strokeWidth": 1}, "encoding": {
     "x": {"field": "t", "type": "quantitative", "axis": null}, "y": {"field": "v", "type": "quantitative", "axis": null}}},
   {"data": {"name": "cn2"}, "mark": {"type": "line", "color": "#231F20", "strokeWidth": 0.9}, "encoding": {
     "x": {"field": "t", "type": "quantitative", "axis": null}, "y": {"field": "v", "type": "quantitative", "axis": null}}},
   {"data": {"name": "one"}, "mark": {"type": "rule", "color": "#000", "strokeWidth": 1}, "encoding": {
     "x": {"datum": 104.5, "type": "quantitative", "axis": null}, "y": {"datum": 143, "type": "quantitative", "axis": null}, "y2": {"datum": 646}}},
   {"data": {"name": "one"}, "mark": {"type": "rule", "color": "#000", "strokeWidth": 1}, "encoding": {
     "x": {"datum": 95.3, "type": "quantitative", "axis": null}, "x2": {"datum": 104.5}, "y": {"datum": 143, "type": "quantitative", "axis": null}}},
   {"data": {"name": "one"}, "mark": {"type": "text", "fontSize": 13, "align": "center", "baseline": "middle"}, "encoding": {
     "x": {"datum": 99.6, "type": "quantitative", "axis": null}, "y": {"datum": 80, "type": "quantitative", "axis": null}, "text": {"value": "500ms"}}},
   {"data": {"name": "one"}, "mark": {"type": "text", "fontSize": 12, "angle": 270, "align": "center", "baseline": "middle"}, "encoding": {
     "x": {"datum": 106.4, "type": "quantitative", "axis": null}, "y": {"datum": 420, "type": "quantitative", "axis": null}, "text": {"value": "500µV"}}},
   {"data": {"name": "one"}, "mark": {"type": "text", "fontSize": 18, "align": "left", "baseline": "middle"}, "encoding": {
     "x": {"datum": -0.08, "type": "quantitative", "axis": null}, "y": {"datum": 327, "type": "quantitative", "axis": null}, "text": {"value": "Enucleation + 20 min"}}}
 ]},
 {"layer": [
   {"data": {"name": "one"}, "mark": {"type": "rect", "color": "#E6E7E8"}, "encoding": {
     "x": {"datum": 0, "type": "quantitative", "scale": {"domain": [-6.232, 211.33], "nice": false, "zero": false}, "axis": null}, "x2": {"datum": 100},
     "y": {"datum": 0, "type": "quantitative", "scale": {"domain": [-169.39, 119.30], "reverse": true, "nice": false, "zero": false}, "axis": null}, "y2": {"datum": 32}}},
   {"data": {"name": "r2"}, "mark": {"type": "square", "size": 5, "color": "#111", "opacity": 1}, "encoding": {
     "x": {"field": "t", "type": "quantitative", "axis": null}, "y": {"field": "c", "type": "quantitative", "axis": null}}}
 ]},
 {"layer": [
   {"data": {"name": "tr3"}, "mark": {"type": "line", "color": "#00A651", "strokeWidth": 1}, "encoding": {
     "x": {"field": "t", "type": "quantitative", "scale": {"domain": [-6.232, 211.33], "nice": false, "zero": false}, "axis": null},
     "y": {"field": "v", "type": "quantitative", "scale": {"domain": [-2341.7, 7539.3], "nice": false, "zero": false}, "axis": null}}},
   {"data": {"name": "in3"}, "mark": {"type": "line", "color": "#00A651", "strokeWidth": 1}, "encoding": {
     "x": {"field": "t", "type": "quantitative", "axis": null}, "y": {"field": "v", "type": "quantitative", "axis": null}}},
   {"data": {"name": "cn3"}, "mark": {"type": "line", "color": "#231F20", "strokeWidth": 0.9}, "encoding": {
     "x": {"field": "t", "type": "quantitative", "axis": null}, "y": {"field": "v", "type": "quantitative", "axis": null}}},
   {"data": {"name": "one"}, "mark": {"type": "text", "fontSize": 18, "align": "left", "baseline": "middle"}, "encoding": {
     "x": {"datum": -0.08, "type": "quantitative", "axis": null}, "y": {"datum": 301, "type": "quantitative", "axis": null}, "text": {"value": "Enucleation + 120 min"}}}
 ]},
 {"layer": [
   {"data": {"name": "one"}, "mark": {"type": "rect", "color": "#E6E7E8"}, "encoding": {
     "x": {"datum": 0, "type": "quantitative", "scale": {"domain": [-6.232, 211.33], "nice": false, "zero": false}, "axis": null}, "x2": {"datum": 100},
     "y": {"datum": 0, "type": "quantitative", "scale": {"domain": [-240.53, 51.34], "reverse": true, "nice": false, "zero": false}, "axis": null}, "y2": {"datum": 32}}},
   {"data": {"name": "r3"}, "mark": {"type": "square", "size": 5, "color": "#111", "opacity": 1}, "encoding": {
     "x": {"field": "t", "type": "quantitative", "axis": null}, "y": {"field": "c", "type": "quantitative", "axis": null}}},
   {"data": {"name": "tx"}, "mark": {"type": "point", "shape": "M0,0V1", "size": 100, "filled": false, "color": "#231F20", "strokeWidth": 1, "opacity": 1}, "encoding": {
     "x": {"field": "t", "type": "quantitative", "axis": null}, "y": {"datum": 32.7, "type": "quantitative", "axis": null}}},
   {"data": {"name": "tx"}, "mark": {"type": "text", "fontSize": 15, "align": "center", "baseline": "middle"}, "encoding": {
     "x": {"field": "t", "type": "quantitative", "axis": null}, "y": {"datum": 37.87, "type": "quantitative", "axis": null}, "text": {"field": "t", "type": "quantitative", "format": "d"}}},
   {"data": {"name": "one"}, "mark": {"type": "text", "fontSize": 15, "align": "center", "baseline": "middle"}, "encoding": {
     "x": {"datum": 48.07, "type": "quantitative", "axis": null}, "y": {"datum": 46.42, "type": "quantitative", "axis": null}, "text": {"value": "Time (Sec.)"}}}
 ]},
 {"layer": [
   {"data": {"name": "cspec"}, "mark": {"type": "area", "fillOpacity": 0.5}, "encoding": {
     "x": {"field": "f", "type": "quantitative", "scale": {"type": "log", "domain": [0.000002393, 3162.3], "nice": false}, "axis": null},
     "y": {"field": "lo", "type": "quantitative", "scale": {"domain": [-9.472, 10.548], "nice": false, "zero": false}, "axis": null},
     "y2": {"field": "hi"},
     "fill": {"field": "series", "type": "nominal", "scale": {"domain": ["Baseline", "Enuc+20", "Enuc+120"], "range": ["#9D9FA2", "#F6B8B8", "#BFE5BA"]}, "legend": null}}},
   {"data": {"name": "cspec"}, "mark": {"type": "line", "strokeWidth": 1.2}, "encoding": {
     "x": {"field": "f", "type": "quantitative", "axis": null},
     "y": {"field": "m", "type": "quantitative", "axis": null},
     "stroke": {"field": "series", "type": "nominal", "scale": {"domain": ["Baseline", "Enuc+20", "Enuc+120"], "range": ["#231F20", "#EE3B3B", "#3DB54A"]}, "legend": null}}},
   {"data": {"name": "cthick"}, "mark": {"type": "line", "strokeWidth": 3.5}, "encoding": {
     "x": {"field": "f", "type": "quantitative", "axis": null},
     "y": {"field": "m", "type": "quantitative", "axis": null},
     "detail": {"field": "seg", "type": "nominal"},
     "stroke": {"field": "series", "type": "nominal", "legend": null}}},
   {"data": {"name": "one"}, "mark": {"type": "rule", "color": "#231F20", "strokeWidth": 1}, "encoding": {
     "x": {"datum": 1, "type": "quantitative", "axis": null}, "x2": {"datum": 100}, "y": {"datum": 0, "type": "quantitative", "axis": null}}},
   {"data": {"name": "one"}, "mark": {"type": "rule", "color": "#231F20", "strokeWidth": 1}, "encoding": {
     "x": {"datum": 1, "type": "quantitative", "axis": null}, "y": {"datum": 0, "type": "quantitative", "axis": null}, "y2": {"datum": 5}}},
   {"data": {"name": "cyt"}, "mark": {"type": "point", "shape": "M0,0H1", "size": 36, "filled": false, "color": "#231F20", "strokeWidth": 1, "opacity": 1}, "encoding": {
     "x": {"datum": 1, "type": "quantitative", "axis": null}, "y": {"field": "v", "type": "quantitative", "axis": null}}},
   {"data": {"name": "cyt"}, "mark": {"type": "text", "fontSize": 15, "align": "right", "baseline": "middle", "xOffset": -6}, "encoding": {
     "x": {"datum": 1, "type": "quantitative", "axis": null}, "y": {"field": "v", "type": "quantitative", "axis": null}, "text": {"field": "v", "type": "quantitative", "format": "d"}}},
   {"data": {"name": "cxt"}, "mark": {"type": "point", "shape": "M0,0V-1", "size": 36, "filled": false, "color": "#231F20", "strokeWidth": 1, "opacity": 1}, "encoding": {
     "x": {"field": "f", "type": "quantitative", "axis": null}, "y": {"datum": 0, "type": "quantitative", "axis": null}}},
   {"data": {"name": "cxl"}, "mark": {"type": "text", "fontSize": 15, "align": "center", "baseline": "middle"}, "encoding": {
     "x": {"field": "f", "type": "quantitative", "axis": null}, "y": {"datum": -0.17, "type": "quantitative", "axis": null}, "text": {"field": "lab"}}},
   {"data": {"name": "one"}, "mark": {"type": "text", "fontSize": 15, "align": "center", "baseline": "middle"}, "encoding": {
     "x": {"datum": 13.7, "type": "quantitative", "axis": null}, "y": {"datum": -0.58, "type": "quantitative", "axis": null}, "text": {"value": "Frequency (Hz)"}}},
   {"data": {"name": "one"}, "mark": {"type": "text", "fontSize": 15, "angle": 270, "align": "center", "baseline": "middle"}, "encoding": {
     "x": {"datum": 0.529, "type": "quantitative", "axis": null}, "y": {"datum": 3.131, "type": "quantitative", "axis": null}, "text": {"value": "Normalized Power"}}},
   {"data": {"name": "one"}, "mark": {"type": "text", "fontSize": 14, "align": "left", "baseline": "middle", "color": "#231F20"}, "encoding": {
     "x": {"datum": 1.377, "type": "quantitative", "axis": null}, "y": {"datum": 4.8, "type": "quantitative", "axis": null}, "text": {"value": "Baseline"}}},
   {"data": {"name": "one"}, "mark": {"type": "text", "fontSize": 14, "align": "left", "baseline": "middle", "color": "#EE3B3B"}, "encoding": {
     "x": {"datum": 1.377, "type": "quantitative", "axis": null}, "y": {"datum": 4.46, "type": "quantitative", "axis": null}, "text": {"value": "Enuc+20"}}},
   {"data": {"name": "one"}, "mark": {"type": "text", "fontSize": 14, "align": "left", "baseline": "middle", "color": "#3DB54A"}, "encoding": {
     "x": {"datum": 1.377, "type": "quantitative", "axis": null}, "y": {"datum": 4.12, "type": "quantitative", "axis": null}, "text": {"value": "Enuc+120"}}},
   {"data": {"name": "one"}, "mark": {"type": "text", "fontSize": 17, "align": "center", "baseline": "middle"}, "encoding": {
     "x": {"datum": 38.7, "type": "quantitative", "axis": null}, "y": {"datum": 5.6, "type": "quantitative", "axis": null}, "text": {"value": "depth EEG (layer 2/3)"}}},
   {"data": {"name": "one"}, "mark": {"type": "text", "font": "Liberation Sans", "fontWeight": "bold", "fontSize": 20, "align": "center", "baseline": "middle", "color": "#000"}, "encoding": {
     "x": {"datum": 0.449, "type": "quantitative", "axis": null}, "y": {"datum": 6.3, "type": "quantitative", "axis": null}, "text": {"value": "C"}}}
 ]},
 {"layer": [
   {"data": {"name": "cbar"}, "mark": {"type": "bar", "width": 14, "orient": "vertical", "strokeWidth": 1.2}, "encoding": {
     "x": {"field": "pos", "type": "quantitative", "scale": {"domain": [-43.567, 3.262], "nice": false, "zero": false}, "axis": null},
     "y": {"field": "m", "type": "quantitative", "scale": {"domain": [-1.8957, 2.0947], "nice": false, "zero": false}, "axis": null},
     "fill": {"field": "cond", "type": "nominal", "scale": {"domain": ["Baseline", "E+20", "E+60", "E+120"], "range": ["#D1D3D4", "#FCEAEA", "#EDF6EB", "#EDF6EB"]}, "legend": null},
     "stroke": {"field": "cond", "type": "nominal", "scale": {"domain": ["Baseline", "E+20", "E+60", "E+120"], "range": ["#58595B", "#6D6E71", "#3DBE6E", "#3DBE6E"]}, "legend": null}}},
   {"data": {"name": "cbar"}, "mark": {"type": "rule", "color": "#231F20", "strokeWidth": 1}, "encoding": {
     "x": {"field": "pos", "type": "quantitative", "axis": null}, "y": {"field": "lo", "type": "quantitative", "axis": null}, "y2": {"field": "hi"}}},
   {"data": {"name": "csig"}, "mark": {"type": "line", "color": "#231F20", "strokeWidth": 1.6}, "encoding": {
     "x": {"field": "pos", "type": "quantitative", "axis": null}, "y": {"field": "y", "type": "quantitative", "axis": null}, "detail": {"field": "g", "type": "nominal"}}},
   {"data": {"name": "one"}, "mark": {"type": "text", "fontSize": 17, "align": "center", "baseline": "alphabetic"}, "encoding": {
     "x": {"datum": 1.12, "type": "quantitative", "axis": null}, "y": {"datum": 1.015, "type": "quantitative", "axis": null}, "text": {"value": "**"}}},
   {"data": {"name": "one"}, "mark": {"type": "rule", "color": "#231F20", "strokeWidth": 1}, "encoding": {
     "x": {"datum": -1.189, "type": "quantitative", "axis": null}, "x2": {"datum": 2.957}, "y": {"datum": 0, "type": "quantitative", "axis": null}}},
   {"data": {"name": "one"}, "mark": {"type": "rule", "color": "#231F20", "strokeWidth": 1}, "encoding": {
     "x": {"datum": -1.189, "type": "quantitative", "axis": null}, "y": {"datum": 0, "type": "quantitative", "axis": null}, "y2": {"datum": 1.01}}},
   {"data": {"name": "cbt"}, "mark": {"type": "point", "shape": "M0,0H1", "size": 36, "filled": false, "color": "#231F20", "strokeWidth": 1, "opacity": 1}, "encoding": {
     "x": {"datum": -1.189, "type": "quantitative", "axis": null}, "y": {"field": "v", "type": "quantitative", "axis": null}}},
   {"data": {"name": "cbl"}, "mark": {"type": "text", "fontSize": 15, "align": "right", "baseline": "middle", "xOffset": -5}, "encoding": {
     "x": {"datum": -1.189, "type": "quantitative", "axis": null}, "y": {"field": "v", "type": "quantitative", "axis": null}, "text": {"field": "v", "type": "quantitative", "format": ".1f"}}},
   {"data": {"name": "cbar"}, "mark": {"type": "text", "fontSize": 15, "angle": 270, "align": "right", "baseline": "middle", "yOffset": 7}, "encoding": {
     "x": {"field": "pos", "type": "quantitative", "axis": null}, "y": {"datum": 0, "type": "quantitative", "axis": null}, "text": {"field": "cond"}}},
   {"data": {"name": "one"}, "mark": {"type": "text", "fontSize": 15, "angle": 270, "align": "center", "baseline": "middle"}, "encoding": {
     "x": {"datum": -3.018, "type": "quantitative", "axis": null}, "y": {"datum": 0.515, "type": "quantitative", "axis": null}, "text": {"value": "Total Power (μV²)"}}}
 ]},
 {"layer": [
   {"data": {"name": "dl"}, "mark": {"type": "bar", "width": 17, "orient": "vertical", "strokeWidth": 1.2}, "encoding": {
     "x": {"field": "pos", "type": "quantitative", "scale": {"domain": [-23.347, 12.658], "nice": false, "zero": false}, "axis": null},
     "y": {"field": "m", "type": "quantitative", "scale": {"domain": [-0.6753, 9.5906], "nice": false, "zero": false}, "axis": null},
     "fill": {"field": "cond", "type": "nominal", "scale": {"domain": ["Baseline", "E+20", "E+60", "E+120"], "range": ["#D1D3D4", "#FCEAEA", "#EDF6EB", "#EDF6EB"]}, "legend": null},
     "stroke": {"field": "cond", "type": "nominal", "scale": {"domain": ["Baseline", "E+20", "E+60", "E+120"], "range": ["#58595B", "#6D6E71", "#3DBE6E", "#3DBE6E"]}, "legend": null}}},
   {"data": {"name": "dl"}, "mark": {"type": "rule", "color": "#231F20", "strokeWidth": 1}, "encoding": {
     "x": {"field": "pos", "type": "quantitative", "axis": null}, "y": {"field": "lo", "type": "quantitative", "axis": null}, "y2": {"field": "hi"}}},
   {"data": {"name": "dlsig"}, "mark": {"type": "line", "color": "#231F20", "strokeWidth": 1.6}, "encoding": {
     "x": {"field": "pos", "type": "quantitative", "axis": null}, "y": {"field": "y", "type": "quantitative", "axis": null}, "detail": {"field": "g", "type": "nominal"}}},
   {"data": {"name": "one"}, "mark": {"type": "text", "fontSize": 17, "align": "center", "baseline": "alphabetic"}, "encoding": {
     "x": {"datum": 1.15, "type": "quantitative", "axis": null}, "y": {"datum": 2.2, "type": "quantitative", "axis": null}, "text": {"value": "**"}}},
   {"data": {"name": "one"}, "mark": {"type": "rule", "color": "#231F20", "strokeWidth": 1}, "encoding": {
     "x": {"datum": -1.17, "type": "quantitative", "axis": null}, "x2": {"datum": 3.76}, "y": {"datum": 0, "type": "quantitative", "axis": null}}},
   {"data": {"name": "one"}, "mark": {"type": "rule", "color": "#231F20", "strokeWidth": 1}, "encoding": {
     "x": {"datum": -1.17, "type": "quantitative", "axis": null}, "y": {"datum": 0, "type": "quantitative", "axis": null}, "y2": {"datum": 2.5}}},
   {"data": {"name": "dly"}, "mark": {"type": "point", "shape": "M0,0H1", "size": 36, "filled": false, "color": "#231F20", "strokeWidth": 1, "opacity": 1}, "encoding": {
     "x": {"datum": -1.17, "type": "quantitative", "axis": null}, "y": {"field": "v", "type": "quantitative", "axis": null}}},
   {"data": {"name": "dly"}, "mark": {"type": "text", "fontSize": 15, "align": "right", "baseline": "middle", "xOffset": -5}, "encoding": {
     "x": {"datum": -1.17, "type": "quantitative", "axis": null}, "y": {"field": "v", "type": "quantitative", "axis": null}, "text": {"field": "v", "type": "quantitative", "format": ".1f"}}},
   {"data": {"name": "dl"}, "mark": {"type": "text", "fontSize": 15, "angle": 270, "align": "right", "baseline": "middle", "yOffset": 4}, "encoding": {
     "x": {"field": "pos", "type": "quantitative", "axis": null}, "y": {"datum": 0, "type": "quantitative", "axis": null}, "text": {"field": "cond"}}},
   {"data": {"name": "one"}, "mark": {"type": "text", "fontSize": 15, "angle": 270, "align": "center", "baseline": "middle"}, "encoding": {
     "x": {"datum": -2.883, "type": "quantitative", "axis": null}, "y": {"datum": 1.52, "type": "quantitative", "axis": null}, "text": {"value": "Firing Rate (Hz)"}}},
   {"data": {"name": "one"}, "mark": {"type": "text", "fontSize": 14, "align": "center", "baseline": "middle"}, "encoding": {
     "x": {"datum": 2.0, "type": "quantitative", "axis": null}, "y": {"datum": 2.615, "type": "quantitative", "axis": null}, "text": {"value": "Superficial (L2-4)"}}},
   {"data": {"name": "one"}, "mark": {"type": "text", "fontSize": 17.5, "align": "center", "baseline": "middle"}, "encoding": {
     "x": {"datum": 5.13, "type": "quantitative", "axis": null}, "y": {"datum": 2.955, "type": "quantitative", "axis": null}, "text": {"value": "Multi-unit Activity"}}},
   {"data": {"name": "one"}, "mark": {"type": "text", "font": "Liberation Sans", "fontWeight": "bold", "fontSize": 20, "align": "center", "baseline": "middle", "color": "#000"}, "encoding": {
     "x": {"datum": -2.46, "type": "quantitative", "axis": null}, "y": {"datum": 3.09, "type": "quantitative", "axis": null}, "text": {"value": "D"}}}
 ]},
 {"layer": [
   {"data": {"name": "dr"}, "mark": {"type": "bar", "width": 17, "orient": "vertical", "strokeWidth": 1.2}, "encoding": {
     "x": {"field": "pos", "type": "quantitative", "scale": {"domain": [-32.319, 4.2524], "nice": false, "zero": false}, "axis": null},
     "y": {"field": "m", "type": "quantitative", "scale": {"domain": [-0.3836, 5.3843], "nice": false, "zero": false}, "axis": null},
     "fill": {"field": "cond", "type": "nominal", "scale": {"domain": ["Baseline", "E+20", "E+60", "E+120"], "range": ["#D1D3D4", "#FCEAEA", "#EDF6EB", "#EDF6EB"]}, "legend": null},
     "stroke": {"field": "cond", "type": "nominal", "scale": {"domain": ["Baseline", "E+20", "E+60", "E+120"], "range": ["#58595B", "#6D6E71", "#3DBE6E", "#3DBE6E"]}, "legend": null}}},
   {"data": {"name": "dr"}, "mark": {"type": "rule", "color": "#231F20", "strokeWidth": 1}, "encoding": {
     "x": {"field": "pos", "type": "quantitative", "axis": null}, "y": {"field": "lo", "type": "quantitative", "axis": null}, "y2": {"field": "hi"}}},
   {"data": {"name": "drsig"}, "mark": {"type": "line", "color": "#231F20", "strokeWidth": 1.6}, "encoding": {
     "x": {"field": "pos", "type": "quantitative", "axis": null}, "y": {"field": "y", "type": "quantitative", "axis": null}, "detail": {"field": "g", "type": "nominal"}}},
   {"data": {"name": "one"}, "mark": {"type": "text", "fontSize": 17, "align": "center", "baseline": "alphabetic"}, "encoding": {
     "x": {"datum": 1.17, "type": "quantitative", "axis": null}, "y": {"datum": 1.32, "type": "quantitative", "axis": null}, "text": {"value": "**"}}},
   {"data": {"name": "one"}, "mark": {"type": "rule", "color": "#231F20", "strokeWidth": 1}, "encoding": {
     "x": {"datum": -1.224, "type": "quantitative", "axis": null}, "x2": {"datum": 4.2}, "y": {"datum": 0, "type": "quantitative", "axis": null}}},
   {"data": {"name": "one"}, "mark": {"type": "rule", "color": "#231F20", "strokeWidth": 1}, "encoding": {
     "x": {"datum": -1.224, "type": "quantitative", "axis": null}, "y": {"datum": 0, "type": "quantitative", "axis": null}, "y2": {"datum": 1.4}}},
   {"data": {"name": "dry"}, "mark": {"type": "point", "shape": "M0,0H1", "size": 36, "filled": false, "color": "#231F20", "strokeWidth": 1, "opacity": 1}, "encoding": {
     "x": {"datum": -1.224, "type": "quantitative", "axis": null}, "y": {"field": "v", "type": "quantitative", "axis": null}}},
   {"data": {"name": "dryl"}, "mark": {"type": "text", "fontSize": 15, "align": "right", "baseline": "middle", "xOffset": -5}, "encoding": {
     "x": {"datum": -1.224, "type": "quantitative", "axis": null}, "y": {"field": "v", "type": "quantitative", "axis": null}, "text": {"field": "v", "type": "quantitative", "format": ".1f"}}},
   {"data": {"name": "dr"}, "mark": {"type": "text", "fontSize": 15, "angle": 270, "align": "right", "baseline": "middle", "yOffset": 4}, "encoding": {
     "x": {"field": "pos", "type": "quantitative", "axis": null}, "y": {"datum": 0, "type": "quantitative", "axis": null}, "text": {"field": "cond"}}},
   {"data": {"name": "one"}, "mark": {"type": "text", "fontSize": 15, "angle": 270, "align": "center", "baseline": "middle"}, "encoding": {
     "x": {"datum": -2.676, "type": "quantitative", "axis": null}, "y": {"datum": 0.844, "type": "quantitative", "axis": null}, "text": {"value": "Firing Rate (Hz)"}}},
   {"data": {"name": "one"}, "mark": {"type": "text", "fontSize": 14, "align": "center", "baseline": "middle"}, "encoding": {
     "x": {"datum": 1.57, "type": "quantitative", "axis": null}, "y": {"datum": 1.465, "type": "quantitative", "axis": null}, "text": {"value": "Deep (5-6)"}}}
 ]}
]
}
